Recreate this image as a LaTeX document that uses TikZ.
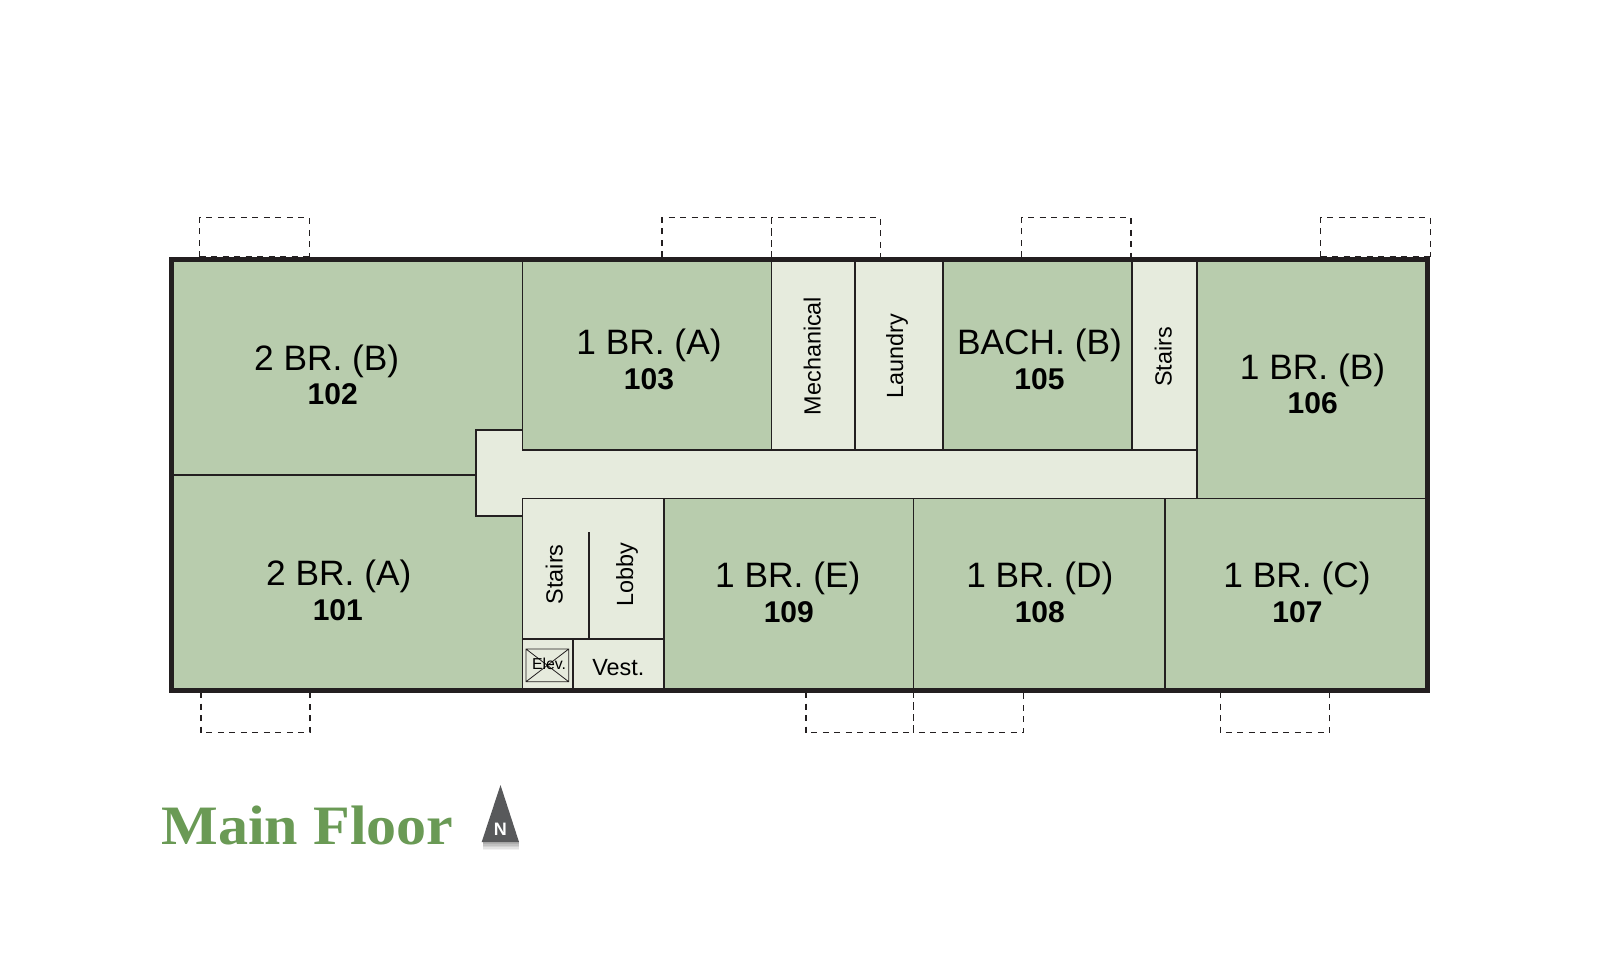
\documentclass[tikz,border=0pt]{standalone}
\usepackage{fontspec}
\setmainfont{Liberation Sans}
\newfontfamily\titlefont[FakeStretch=1.08]{Liberation Serif}
\definecolor{roomgreen}{HTML}{B8CCAD}
\definecolor{halllight}{HTML}{E6EBDD}
\definecolor{inkdark}{HTML}{231F20}
\definecolor{titlegreen}{HTML}{6A9A55}
\definecolor{arrowgray}{HTML}{58595B}
\tikzset{
  x=1pt,y=-1pt,
  wallline/.style={draw=inkdark,line width=1.6pt},
  outerwall/.style={draw=inkdark,line width=5pt,line join=miter},
  parkbox/.style={draw=inkdark,line width=1.5pt,dash pattern=on 6pt off 5.5pt},
  hallfill/.style={fill=halllight},
  big/.style={anchor=base,inner sep=0pt,text=black,font=\fontsize{35.3}{40}\selectfont},
  num/.style={anchor=base,inner sep=0pt,text=black,font=\fontsize{30}{34}\selectfont\bfseries},
  small/.style={anchor=base,inner sep=0pt,text=black,font=\fontsize{23.4}{28}\selectfont},
}
\begin{document}
\begin{tikzpicture}
\path[use as bounding box,fill=white] (0,0) rectangle (1600,974);
% parking boxes
\foreach \a/\b in {199.7/309.3,662/771.5,771.5/880.6,1021.4/1131,1320.7/1430.7}
  \draw[parkbox] (\a,257) -- (\a,217.7) -- (\b,217.7) -- (\b,257);
\foreach \a/\b in {201/310,806/913.5,913.5/1023.5,1220.4/1329.6}
  \draw[parkbox] (\a,692) -- (\a,732.6) -- (\b,732.6) -- (\b,692);
\draw[parkbox] (199.7,257) -- (309.3,257);
\draw[parkbox] (1320.7,257) -- (1430.7,257);
% base
\fill[roomgreen] (171,259.5) rectangle (1427.5,690);
% light spaces
\fill[hallfill] (771.5,259.5) rectangle (943,450);
\fill[hallfill] (1132,259.5) rectangle (1196.7,450);
\fill[hallfill] (522.5,498.3) rectangle (663.7,690);
\draw[wallline,hallfill] (475.7,430) -- (522.5,430) -- (522.5,450) -- (1196.7,450) -- (1196.7,498.3) -- (522.5,498.3) -- (522.5,516) -- (475.7,516) -- cycle;
\fill[halllight] (521,451) rectangle (524.5,497.5);
% walls
\draw[wallline] (171,475) -- (475.7,475);
\draw[wallline] (522.5,259.5) -- (522.5,450);
\draw[wallline] (522.5,450) -- (1196.7,450);
\draw[wallline] (771.5,259.5) -- (771.5,450);
\draw[wallline] (855.2,259.5) -- (855.2,450);
\draw[wallline] (943,259.5) -- (943,450);
\draw[wallline] (1132,259.5) -- (1132,450);
\draw[wallline] (1196.7,259.5) -- (1196.7,498.3);
\draw[wallline] (1196.7,498.3) -- (1427.5,498.3);
\draw[wallline] (522.5,498.3) -- (522.5,690);
\draw[wallline] (663.7,498.3) -- (663.7,690);
\draw[wallline] (913.5,498.3) -- (913.5,690);
\draw[wallline] (1165,498.3) -- (1165,690);
\draw[wallline] (522.5,638.7) -- (663.7,638.7);
\draw[wallline] (572.7,638.7) -- (572.7,690);
\draw[wallline] (589,532.3) -- (589,638.7);
% elevator
\draw[draw=inkdark,line width=0.8pt] (526,649) rectangle (568.7,681.7) (526,649) -- (568.7,681.7) (526,681.7) -- (568.7,649);
% outer wall
\draw[outerwall] (171,259.5) rectangle (1427.5,690);
% labels
\node[big] (t102) at (326.7,370.7) {2 BR. (B)};
\node[num] (n102) at (332.7,404.8) {102};
\node[big] (t101) at (338.8,585) {2 BR. (A)};
\node[num] (n101) at (337.8,620.2) {101};
\node[big] (t103) at (649,354.6) {1 BR. (A)};
\node[num] (n103) at (649,389.8) {103};
\node[big] (t105) at (1039.5,354.6) {BACH. (B)};
\node[num] (n105) at (1039.5,389.8) {105};
\node[big] (t106) at (1312.5,379) {1 BR. (B)};
\node[num] (n106) at (1312.7,413.8) {106};
\node[big] (t109) at (787.8,587) {1 BR. (E)};
\node[num] (n109) at (788.8,622.4) {109};
\node[big] (t108) at (1039.8,587) {1 BR. (D)};
\node[num] (n108) at (1039.8,622.4) {108};
\node[big] (t107) at (1297,587) {1 BR. (C)};
\node[num] (n107) at (1297.5,622.4) {107};
\node[small,rotate=90] (mech) at (820.5,356) {Mechanical};
\node[small,rotate=90] (laun) at (903,356.5) {Laundry};
\node[small,rotate=90] (st1) at (1171.7,356.7) {Stairs};
\node[small,rotate=90] (st2) at (562.5,574.3) {Stairs};
\node[small,rotate=90] (lob) at (633,574.5) {Lobby};
\node[small] (vest) at (618.3,675.5) {Vest.};
\node[anchor=base,inner sep=0pt,text=black,font=\fontsize{15.8}{18}\selectfont] (elev) at (549,669.8) {Elev.};
% title
\node[anchor=base,inner sep=0pt,text=titlegreen,font=\titlefont\bfseries\fontsize{55.6}{60}\selectfont] (title) at (307.5,844) {Main Floor};
% north arrow
\foreach \o/\h in {0.05/8,0.06/6.5,0.07/5,0.08/3.5,0.09/2}
  \fill[black,opacity=\o] (483,842) rectangle (519,842+\h);
\fill[arrowgray] (500.5,785) -- (519,842) -- (481.7,842) -- cycle;
\node[anchor=center,inner sep=0pt,text=white,font=\fontsize{18}{20}\selectfont\bfseries] (north) at (500.3,829) {N};
\end{tikzpicture}
\end{document}
